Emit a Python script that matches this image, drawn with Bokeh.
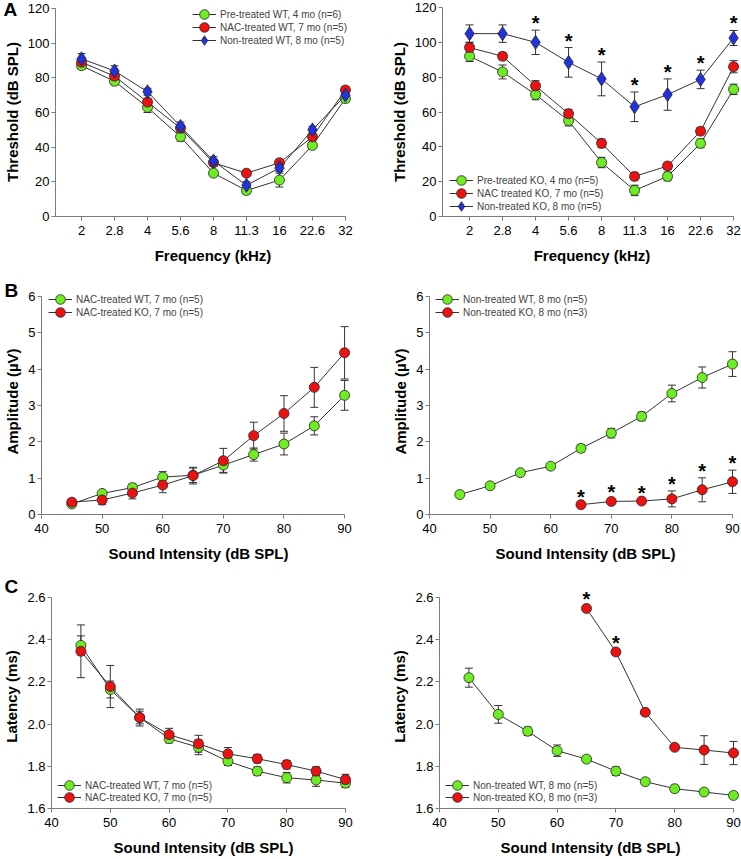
from bokeh.plotting import figure
from bokeh.models import (Range1d, FixedTicker, Whisker, TeeHead, ColumnDataSource,
                          Legend, LegendItem, Title, NumeralTickFormatter)
from bokeh.layouts import column, row
from bokeh.embed import file_html
from bokeh.resources import INLINE
from bokeh.core.properties import value

# ---------------- data ----------------
freq_labels = ["2", "2.8", "4", "5.6", "8", "11.3", "16", "22.6", "32"]

wt_pre = [87, 78, 63, 46, 25, 15, 21, 41, 68]
wt_pre_err = [2, 2, 3, 2.5, 1.5, 2, 4, 1.5, 2]
wt_nac = [89, 81, 66, 51, 31, 25, 31, 46, 73]
wt_nac_err = [2, 2, 2, 2, 2, 1.5, 2, 2, 2]
wt_non = [91, 84, 72, 52, 32, 18, 28, 50, 70]
wt_non_err = [3, 3, 2, 2.5, 2.5, 2, 2, 2, 2]

ko_pre = [92, 83, 70, 55, 31, 15, 23, 42, 73]
ko_pre_err = [3, 4, 3, 3, 3, 3, 2.5, 2.5, 3]
ko_nac = [97, 92, 75, 59, 42, 23, 29, 49, 86]
ko_nac_err = [3, 2, 3, 2.5, 2.5, 2, 2, 2, 3.5]
ko_non = [105, 105, 100, 88.5, 79, 63, 70, 78.7, 102.5]
ko_non_err = [5, 5, 7, 8.5, 9.7, 8.5, 9, 5.3, 4.3]
ko_sig = [0, 0, 1, 1, 1, 1, 1, 1, 1]

intensity = [45, 50, 55, 60, 65, 70, 75, 80, 85, 90]
ko_intensity = [65, 70, 75, 80, 85, 90]

amp_wt_nac = [0.29, 0.58, 0.74, 1.03, 1.08, 1.36, 1.65, 1.94, 2.44, 3.28]
amp_wt_nac_err = [0.05, 0.05, 0.1, 0.15, 0.2, 0.2, 0.18, 0.3, 0.25, 0.41]
amp_ko_nac = [0.34, 0.40, 0.59, 0.81, 1.07, 1.48, 2.17, 2.78, 3.50, 4.45]
amp_ko_nac_err = [0.05, 0.13, 0.16, 0.21, 0.23, 0.34, 0.37, 0.49, 0.55, 0.72]

amp_wt_non = [0.55, 0.79, 1.15, 1.33, 1.82, 2.24, 2.70, 3.33, 3.77, 4.14]
amp_wt_non_err = [0.03, 0.03, 0.04, 0.08, 0.1, 0.13, 0.12, 0.23, 0.29, 0.34]
amp_ko_non = [0.27, 0.36, 0.37, 0.43, 0.68, 0.90]
amp_ko_non_err = [0.03, 0.07, 0.04, 0.22, 0.33, 0.32]
amp_ko_sig = [1, 1, 1, 1, 1, 1]

lat_wt_nac = [2.373, 2.164, 2.031, 1.931, 1.890, 1.824, 1.777, 1.746, 1.735, 1.720]
lat_wt_nac_err = [0.045, 0.04, 0.03, 0.02, 0.035, 0.02, 0.02, 0.025, 0.03, 0.02]
lat_ko_nac = [2.345, 2.178, 2.031, 1.950, 1.907, 1.859, 1.836, 1.808, 1.777, 1.737]
lat_ko_nac_err = [0.125, 0.10, 0.04, 0.03, 0.04, 0.03, 0.02, 0.02, 0.02, 0.025]

lat_wt_non = [2.220, 2.046, 1.966, 1.874, 1.834, 1.777, 1.727, 1.694, 1.678, 1.662]
lat_wt_non_err = [0.045, 0.042, 0.02, 0.027, 0.012, 0.02, 0.01, 0.016, 0.012, 0.01]
lat_ko_non = [2.548, 2.342, 2.056, 1.890, 1.877, 1.863]
lat_ko_non_err = [0.01, 0.01, 0.01, 0.01, 0.068, 0.055]
lat_ko_sig = [1, 1, 0, 0, 0, 0]

# ---------------- style ----------------
GREEN = "#6EEE22"
RED = "#EE1111"
BLUE = "#2233DD"
LINE = "#333333"
AXIS = "#7a7a7a"
FONT = "Liberation Sans"


def make_fig(w, h, xr, yr, bl, br, bt, bb, xlab, ylab, xbounds, ybounds):
    p = figure(width=w, height=h, x_range=Range1d(*xr), y_range=Range1d(*yr),
               output_backend="svg", toolbar_location=None,
               min_border_left=bl, min_border_right=br, min_border_top=bt, min_border_bottom=bb)
    p.outline_line_color = None
    p.grid.visible = False
    for ax in (p.xaxis[0], p.yaxis[0]):
        ax.axis_line_color = AXIS
        ax.major_tick_line_color = AXIS
        ax.minor_tick_line_color = None
        ax.major_tick_in = 0
        ax.major_tick_out = 4
        ax.major_label_text_font = FONT
        ax.major_label_text_font_size = "13px"
        ax.major_label_text_color = "black"
        ax.axis_label_text_font = FONT
        ax.axis_label_text_font_size = "15px"
        ax.axis_label_text_font_style = "bold"
        ax.axis_label_text_color = "black"
    p.xaxis.axis_label = xlab
    p.yaxis.axis_label = ylab
    p.xaxis.bounds = xbounds
    p.yaxis.bounds = ybounds
    p.xaxis.major_label_standoff = 5
    p.xaxis.axis_label_standoff = 9
    p.yaxis.major_label_standoff = 2
    p.yaxis.axis_label_standoff = 4
    return p


def series(p, xs, ys, errs, color, marker="circle", size=10):
    src = ColumnDataSource(dict(x=xs, y=ys,
                                lo=[a - e for a, e in zip(ys, errs)],
                                hi=[a + e for a, e in zip(ys, errs)]))
    wk = Whisker(base="x", lower="lo", upper="hi", source=src, line_color=LINE, line_width=1,
                 upper_head=TeeHead(size=8, line_color=LINE, line_width=1),
                 lower_head=TeeHead(size=8, line_color=LINE, line_width=1))
    p.add_layout(wk)
    lr = p.line("x", "y", source=src, line_color=LINE, line_width=1)
    sr = p.scatter("x", "y", source=src, marker=marker, size=size, fill_color=color,
                   line_color="#222222", line_width=0.8)
    return lr, sr


def stars(p, xs, ys, errs, sig):
    sx = [x for x, s in zip(xs, sig) if s]
    sy = [y + e for y, e, s in zip(ys, errs, sig) if s]
    p.text(x=sx, y=sy, text=["*"] * len(sx), text_font=value(FONT),
           text_font_size="20px", text_font_style="bold", text_align="center",
           text_baseline="alphabetic", y_offset=-7, text_color="black")


def legend(p, items, locs):
    # one legend per entry so that rows can sit closer than the marker box
    for (label, rends), loc in zip(items, locs):
        lg = Legend(items=[LegendItem(label=label, renderers=list(rends))], location=loc,
                    border_line_color=None, background_fill_alpha=0, label_text_font=FONT,
                    label_text_font_size="10px", glyph_width=24, glyph_height=24,
                    label_height=24, spacing=0, padding=0, margin=0, label_standoff=4)
        p.add_layout(lg)


def letter(p, txt, offset, standoff):
    p.add_layout(Title(text=txt, align="left", offset=offset, standoff=standoff,
                       text_font=FONT, text_font_size="19px", text_font_style="bold",
                       text_color="black"), "above")


cat_x = list(range(1, len(freq_labels) + 1))
overrides = {i: l for i, l in zip(cat_x, freq_labels)}
ythr = [0, 20, 40, 60, 80, 100, 120]
xt = [40, 50, 60, 70, 80, 90]
yamp = [0, 1, 2, 3, 4, 5, 6]
ylat = [1.6, 1.8, 2.0, 2.2, 2.4, 2.6]

# ---- A left ----
a1 = make_fig(370, 280, (0.21, 9.76), (0, 120.6), 55, 0, 0, 64,
              "Frequency (kHz)", "Threshold (dB SPL)", (0.21, 9), (0, 120))
a1.xaxis.ticker = FixedTicker(ticks=cat_x)
a1.xaxis.major_label_overrides = overrides
a1.yaxis.ticker = FixedTicker(ticks=ythr)
g = series(a1, cat_x, wt_pre, wt_pre_err, GREEN)
r = series(a1, cat_x, wt_nac, wt_nac_err, RED)
b = series(a1, cat_x, wt_non, wt_non_err, BLUE, "diamond", 14)
legend(a1, [("Pre-treated WT, 4 mo (n=6)", g), ("NAC-treated WT, 7 mo (n=5)", r),
            ("Non-treated WT, 8 mo (n=5)", b)], [(137, 190), (137, 177), (137, 164)])
letter(a1, "A", -52, -24)

# ---- A right ----
a2 = make_fig(371, 280, (0.18, 9.24), (0, 120), 72, 0, 7, 64,
              "Frequency (kHz)", "Threshold (dB SPL)", (0.18, 9), (0, 120))
a2.xaxis.ticker = FixedTicker(ticks=cat_x)
a2.xaxis.major_label_overrides = overrides
a2.yaxis.ticker = FixedTicker(ticks=ythr)
g = series(a2, cat_x, ko_pre, ko_pre_err, GREEN)
r = series(a2, cat_x, ko_nac, ko_nac_err, RED)
b = series(a2, cat_x, ko_non, ko_non_err, BLUE, "diamond", 14)
stars(a2, cat_x, ko_non, ko_non_err, ko_sig)
legend(a2, [("Pre-treated KO, 4 mo (n=5)", g), ("NAC treated KO, 7 mo (n=5)", r),
            ("Non-treated KO, 8 mo (n=5)", b)], [(7, 24), (7, 11), (7, -2)])

# ---- B left ----
b1 = make_fig(370, 296, (40, 91.8), (0, 6.22), 41, 15, 0, 62,
              "Sound Intensity (dB SPL)", "Amplitude (\u00b5V)", (40, 90), (0, 6))
b1.xaxis.ticker = FixedTicker(ticks=xt)
b1.yaxis.ticker = FixedTicker(ticks=yamp)
g = series(b1, intensity, amp_wt_nac, amp_wt_nac_err, GREEN)
r = series(b1, intensity, amp_ko_nac, amp_ko_nac_err, RED)
legend(b1, [("NAC-treated WT, 7 mo (n=5)", g), ("NAC-treated KO, 7 mo (n=5)", r)],
       [(7, 203), (7, 190)])
letter(b1, "B", -37, -24)

# ---- B right ----
b2 = make_fig(371, 296, (40, 91.49), (0, 6.22), 59, 0, 8, 62,
              "Sound Intensity (dB SPL)", "Amplitude (\u00b5V)", (40, 90), (0, 6))
b2.xaxis.ticker = FixedTicker(ticks=xt)
b2.yaxis.ticker = FixedTicker(ticks=yamp)
g = series(b2, intensity, amp_wt_non, amp_wt_non_err, GREEN)
r = series(b2, ko_intensity, amp_ko_non, amp_ko_non_err, RED)
stars(b2, ko_intensity, amp_ko_non, amp_ko_non_err, amp_ko_sig)
legend(b2, [("Non-treated WT, 8 mo (n=5)", g), ("Non-treated KO, 8 mo (n=3)", r)],
       [(6, 203), (6, 190)])

# ---- C left ----
c1 = make_fig(370, 282, (40, 91.7), (1.6, 2.6616), 51, 15, 0, 50,
              "Sound Intensity (dB SPL)", "Latency (ms)", (40, 90), (1.6, 2.6))
c1.xaxis.ticker = FixedTicker(ticks=xt)
c1.yaxis.ticker = FixedTicker(ticks=ylat)
c1.yaxis.formatter = NumeralTickFormatter(format="0.0")
g = series(c1, intensity, lat_wt_nac, lat_wt_nac_err, GREEN)
r = series(c1, intensity, lat_ko_nac, lat_ko_nac_err, RED)
legend(c1, [("NAC-treated WT, 7 mo (n=5)", g), ("NAC-treated KO, 7 mo (n=5)", r)],
       [(6, 11), (6, -1)])
letter(c1, "C", -47, -24)

# ---- C right ----
c2 = make_fig(371, 282, (40, 91.36), (1.6, 2.6616), 69, 0, 8, 50,
              "Sound Intensity (dB SPL)", "Latency (ms)", (40, 90), (1.6, 2.6))
c2.xaxis.ticker = FixedTicker(ticks=xt)
c2.yaxis.ticker = FixedTicker(ticks=ylat)
c2.yaxis.formatter = NumeralTickFormatter(format="0.0")
g = series(c2, intensity, lat_wt_non, lat_wt_non_err, GREEN)
r = series(c2, ko_intensity, lat_ko_non, lat_ko_non_err, RED)
stars(c2, ko_intensity, lat_ko_non, lat_ko_non_err, lat_ko_sig)
legend(c2, [("Non-treated WT, 8 mo (n=5)", g), ("Non-treated KO, 8 mo (n=3)", r)],
       [(6, 11), (6, -1)])

layout = column(row(a1, a2), row(b1, b2), row(c1, c2))
open("out.html", "w").write(file_html(layout, INLINE))
